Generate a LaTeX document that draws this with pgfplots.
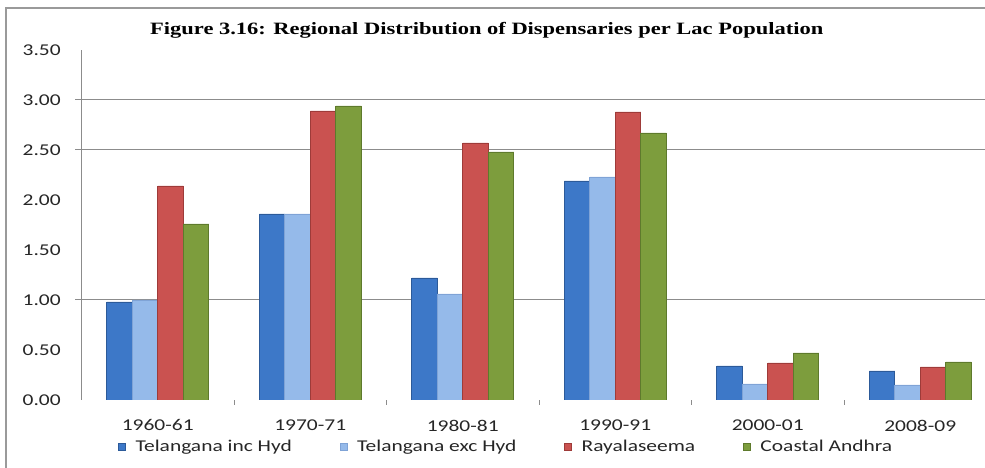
\documentclass[border=0pt]{standalone}
\usepackage{pgfplots}
\pgfplotsset{compat=1.18}
\usepackage{pgfplotstable}
\usepackage{fontspec}
\newfontfamily\chartfont[FakeStretch=1.3]{Carlito}
\newfontfamily\titlefont[FakeStretch=1.3]{Liberation Serif}

\definecolor{incD}{HTML}{2C5A99}
\definecolor{incM}{HTML}{3D78C8}
\definecolor{excD}{HTML}{7FA3D6}
\definecolor{excM}{HTML}{95BAEA}
\definecolor{rayD}{HTML}{9E3B39}
\definecolor{rayM}{HTML}{CA5250}
\definecolor{coaD}{HTML}{5E7A2C}
\definecolor{coaM}{HTML}{7D9D3D}
\definecolor{gridgray}{HTML}{8C8C8C}
\definecolor{framegray}{HTML}{9A9A9A}

% dispensaries per lakh population, by region
\pgfplotstableread{
x  tinc  texc  rayal  coastal
1  0.98  1.00  2.14  1.76
2  1.86  1.86  2.89  2.94
3  1.22  1.06  2.57  2.48
4  2.19  2.23  2.88  2.67
5  0.34  0.16  0.37  0.47
6  0.29  0.15  0.33  0.38
}\dispensaries

\begin{document}
\begin{tikzpicture}[x=1pt,y=1pt]
% outer chart frame: only its top and left sides are inside the crop
\draw[framegray, line width=1.3pt] (6pt,-30pt) -- (6pt,460pt) -- (1200pt,460pt);

\node[anchor=west, inner sep=0pt] at (150pt,438pt)
  {\titlefont\bfseries\fontsize{17.3}{20}\selectfont Figure 3.16: Regional Distribution of Dispensaries per Lac Population};

\begin{axis}[
    at={(81.5pt,68pt)}, anchor=south west,
    scale only axis,
    width=915pt, height=350pt,
    xmin=0.5, xmax=6.5,
    ymin=0, ymax=3.5,
    axis lines*=left,
    axis line style={-},
    x axis line style={draw=none},
    y axis line style={draw=gridgray, line width=1pt},
    ybar=0pt, bar width=25.5pt,
    xtick={1,...,6},
    xticklabels={1960-61,1970-71,1980-81,1990-91,2000-01,2008-09},
    major x tick style={draw=none},
    minor xtick={1.5,2.5,3.5,4.5,5.5},
    minor x tick style={draw=gridgray, line width=1pt},
    minor tick length=5pt,
    ytick={0,0.5,...,3.5},
    yticklabels={0.00,0.50,1.00,1.50,2.00,2.50,3.00,3.50},
    major y tick style={draw=none},
    extra y ticks={1,2.5,3},
    extra y tick labels={},
    extra y tick style={grid=major, major tick length=6pt,
        major y tick style={draw=gridgray, line width=1pt}},
    major grid style={gridgray, line width=1pt},
    tick align=outside,
    tick label style={font=\chartfont\fontsize{16.5}{19}\selectfont, text=black!85},
    xticklabel style={yshift=-12pt},
    yticklabel style={xshift=-13pt},
    legend columns=4,
    legend style={draw=none, fill=none, inner sep=0pt,
        at={(axis description cs:0.04,-0.134)}, anchor=west,
        font=\chartfont\fontsize{16.5}{19}\selectfont,
        text=black!85,
        /tikz/every even column/.append style={column sep=46pt}},
    legend image code/.code={
        \path[#1] (0pt,-3.5pt) rectangle (7pt,3.5pt);
        \path[draw=none, fill=none] (7pt,0pt) -- (15pt,0pt);},
]
\addplot[draw=incD, line width=0.6pt, fill=incM]
    table[x=x, y=tinc] {\dispensaries};
\addlegendentry{Telangana inc Hyd}
\addplot[draw=excD, line width=0.6pt, fill=excM]
    table[x=x, y=texc] {\dispensaries};
\addlegendentry{Telangana exc Hyd}
\addplot[draw=rayD, line width=0.6pt, fill=rayM]
    table[x=x, y=rayal] {\dispensaries};
\addlegendentry{Rayalaseema}
\addplot[draw=coaD, line width=0.6pt, fill=coaM]
    table[x=x, y=coastal] {\dispensaries};
\addlegendentry{Coastal Andhra}
\end{axis}

% the reference is cropped at its right and bottom edges
\pgfresetboundingbox
\useasboundingbox (0pt,0pt) rectangle (985pt,468pt);
\end{tikzpicture}
\end{document}
